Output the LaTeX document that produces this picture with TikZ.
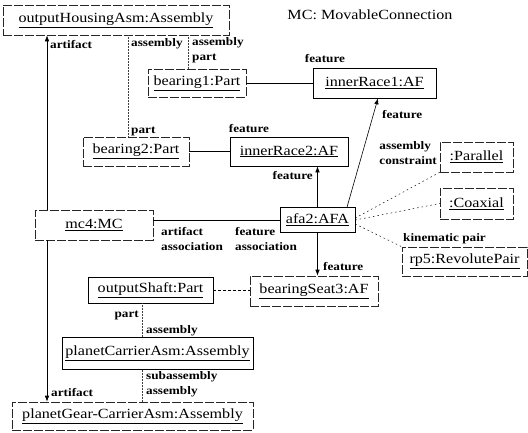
\documentclass[tikz,border=0pt]{standalone}
\usepackage{fontspec}
\setmainfont{Liberation Serif}[FakeStretch=1.15]
\usetikzlibrary{arrows.meta}

\newlength{\du}
\setlength{\du}{1pt}

\tikzset{
  uml/.style={draw=black, line width=0.6pt, inner sep=0pt, font=\fontsize{14}{16}\selectfont},
  umldash/.style={uml, draw=black!85, dash pattern=on 9pt off 2pt},
  role/.style={inner sep=0pt, font=\fontsize{11.5}{15}\selectfont\bfseries, align=left},
  assoc/.style={line width=0.6pt},
  navi/.style={assoc, -{Latex[length=6pt,width=4.5pt]}},
  comp/.style={line width=0.5pt, draw=black!75, densely dotted},
  cons/.style={line width=0.5pt, dash pattern=on 1.5pt off 3pt},
}

\begin{document}
\begin{tikzpicture}
\pgftransformxscale{1.000000}
\pgftransformyscale{-1.000000}
\useasboundingbox (0\du,0\du) rectangle (528\du,432\du);
% objects
\node[umldash, minimum width=226\du, minimum height=30\du] (housing) at (116\du,20\du){\underline{outputHousingAsm:Assembly}};
\node at (370\du,15\du){\fontsize{14}{16}\selectfont MC: MovableConnection};
\node[umldash, minimum width=98\du, minimum height=28\du] (bearing1) at (197\du,83\du){\underline{bearing1:Part}};
\node[uml, minimum width=123\du, minimum height=30\du] (race1) at (374.5\du,83\du){\underline{innerRace1:AF}};
\node[umldash, minimum width=106\du, minimum height=29\du] (bearing2) at (136\du,151.5\du){\underline{bearing2:Part}};
\node[uml, minimum width=118\du, minimum height=29\du] (race2) at (289\du,151.5\du){\underline{innerRace2:AF}};
\node[umldash, minimum width=73\du, minimum height=30\du] (parallel) at (476.5\du,157\du){\underline{:Parallel}};
\node[umldash, minimum width=73\du, minimum height=31\du] (coaxial) at (476.5\du,203.5\du){\underline{:Coaxial}};
\node[umldash, minimum width=118\du, minimum height=30\du] (mc4) at (94\du,225\du){\underline{mc4:MC}};
\node[uml, minimum width=75\du, minimum height=25\du] (afa2) at (317.5\du,220\du){\underline{afa2:AFA}};
\node[umldash, minimum width=125\du, minimum height=29\du] (rp5) at (464.5\du,261.5\du){\underline{rp5:RevolutePair}};
\node[uml, minimum width=125\du, minimum height=26\du] (shaft) at (150.5\du,290\du){\underline{outputShaft:Part}};
\node[umldash, minimum width=128\du, minimum height=30\du] (seat3) at (314\du,291\du){\underline{bearingSeat3:AF}};
\node[uml, minimum width=191\du, minimum height=32\du] (carrier) at (157.5\du,353.5\du){\underline{planetCarrierAsm:Assembly}};
\node[umldash, minimum width=241\du, minimum height=28\du] (gear) at (132.5\du,416\du){\underline{planetGear-CarrierAsm:Assembly}};
% line positions
\coordinate (artx) at (47\du,0\du);
\coordinate (b2x) at (128\du,0\du);
\coordinate (b1x) at (188\du,0\du);
\coordinate (asmx) at (142\du,0\du);
\coordinate (f1x) at (347\du,0\du);
\coordinate (f2x) at (317.5\du,0\du);
\coordinate (f1tip) at (378\du,0\du);
% connections
\draw[navi] (mc4.north -| artx) -- (housing.south -| artx);
\draw[navi] (mc4.south -| artx) -- (gear.north -| artx);
\draw[comp] (housing.south -| b2x) -- (bearing2.north -| b2x);
\draw[comp] (housing.south -| b1x) -- (bearing1.north -| b1x);
\draw[assoc] (bearing1.east) -- (race1.west |- bearing1.east);
\draw[assoc] (bearing2.east) -- (race2.west |- bearing2.east);
\draw[navi] (afa2.north -| f2x) -- (race2.south -| f2x);
\draw[navi] (afa2.north -| f1x) -- (race1.south -| f1tip);
\draw[assoc] (mc4.east |- afa2.west) -- (afa2.west);
\draw[navi] (afa2.south -| f2x) -- (seat3.north -| f2x);
\draw[assoc, dash pattern=on 3pt off 2pt] (shaft.east) -- (seat3.west |- shaft.east);
\draw[comp] (shaft.south -| asmx) -- (carrier.north -| asmx);
\draw[comp] (carrier.south -| asmx) -- (gear.north -| asmx);
\draw[cons] ([yshift=-2\du]afa2.east) -- (parallel.south west);
\draw[cons] (afa2.east) -- (coaxial.west);
\draw[cons] ([yshift=4\du]afa2.east) -- (rp5.north west);
% roles
\node[role, anchor=west] (r1) at (50\du,45\du){artifact};
\node[role, anchor=west] (r2) at (131\du,44\du){assembly};
\node[role, anchor=north west] (r3) at (192\du,37\du){assembly\\part};
\node[role, anchor=west] (r4) at (131\du,131\du){part};
\node[role] (r5) at (325\du,59\du){feature};
\node[role] (r6) at (249\du,129\du){feature};
\node[role, anchor=east] (r7) at (313\du,176\du){feature};
\node[role, anchor=west] (r8) at (382\du,115\du){feature};
\node[role, anchor=north east] (r9) at (437\du,141\du){assembly\\constraint};
\node[role, anchor=north west] (r10) at (161\du,227\du){artifact\\association};
\node[role, anchor=north west] (r11) at (235\du,227\du){feature\\association};
\node[role, anchor=west] (r12) at (403\du,239\du){kinematic pair};
\node[role, anchor=west] (r13) at (323\du,267\du){feature};
\node[role, anchor=east] (r14) at (139\du,315\du){part};
\node[role, anchor=west] (r15) at (146\du,331\du){assembly};
\node[role, anchor=north west] (r16) at (146\du,371\du){subassembly\\assembly};
\node[role, anchor=west] (r17) at (51\du,393\du){artifact};
\end{tikzpicture}
\end{document}
